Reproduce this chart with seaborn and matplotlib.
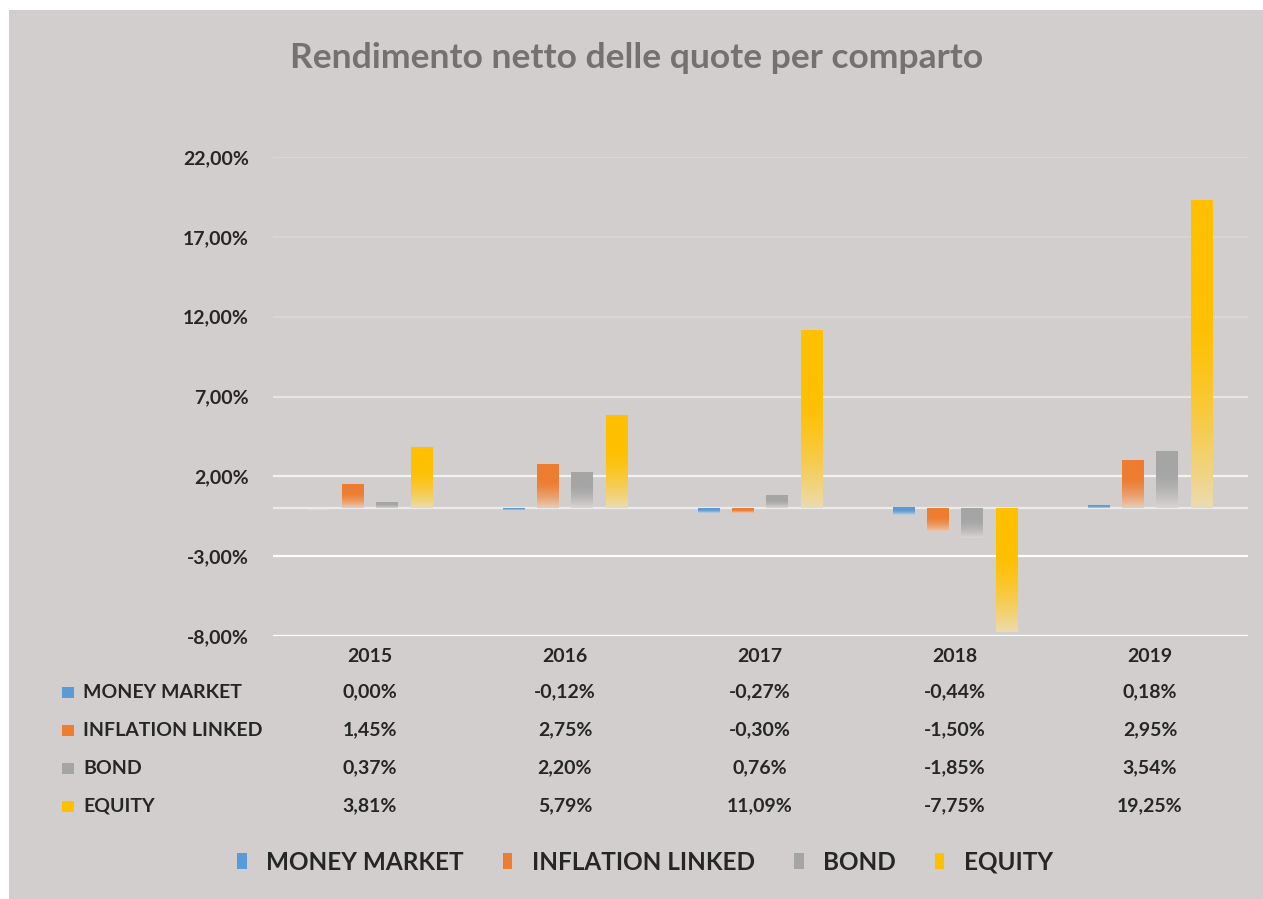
import numpy as np
import pandas as pd
import matplotlib
matplotlib.use('Agg')
import matplotlib.pyplot as plt
import matplotlib.transforms as mtransforms
from matplotlib.colors import to_rgb
from matplotlib.patches import Rectangle, Patch
import seaborn as sns

# ---- dati ----
YEARS = ["2015", "2016", "2017", "2018", "2019"]
COMPARTI = ["MONEY MARKET", "INFLATION LINKED", "BOND", "EQUITY"]
money_market = [0.00, -0.12, -0.27, -0.44, 0.18]
inflation_linked = [1.45, 2.75, -0.30, -1.50, 2.95]
bond = [0.37, 2.20, 0.76, -1.85, 3.54]
equity = [3.81, 5.79, 11.09, -7.75, 19.25]
YTICKS = [-8, -3, 2, 7, 12, 17, 22]

COLORS = ["#5b9bd5", "#ed7d31", "#a5a5a5", "#ffc000"]
BG = "#d2cece"
FADE = np.array(to_rgb("#e6e2de"))
GRID_COLORS = ["#ffffff", "#ffffff", "#f4f3f3", "#e6e4e4", "#d9d6d6", "#d8d5d5", "#dad7d7"]


def fmt_pct(v):
    return f"{v:.2f}%".replace(".", ",")


def gradient_img(color):
    # pieno in alto, sfuma verso il basso (come il riempimento sfumato di Excel)
    c = np.array(color[:3])
    end = 0.2 * c + 0.8 * FADE
    t = np.linspace(0, 1, 256)
    w = np.clip((t - 0.35) / 0.65, 0, 1) ** 1.6
    rgb = c[None, :] * (1 - w[:, None]) + end[None, :] * w[:, None]
    return rgb[:, None, :]


df = pd.DataFrame({
    "Anno": YEARS * 4,
    "Comparto": np.repeat(COMPARTI, len(YEARS)),
    "Rendimento": money_market + inflation_linked + bond + equity,
})

sns.set_style("white")
plt.rcParams['font.family'] = ['Lato', 'DejaVu Sans']

W, H = 1263, 899
fig = plt.figure(figsize=(W / 100, H / 100), dpi=100)
fig.patch.set_facecolor("white")
fig.add_artist(Rectangle((9 / W, 0), 1 - 9 / W, 1 - 10 / H, transform=fig.transFigure,
                         facecolor=BG, edgecolor="none", zorder=-10))

ax = fig.add_axes([272.5 / W, 1 - 636 / H, 975 / W, 479 / H])
ax.set_facecolor("none")

sns.barplot(data=df, x="Anno", y="Rendimento", hue="Comparto", order=YEARS,
            hue_order=COMPARTI, palette=COLORS, saturation=1, width=0.70, gap=0.38,
            legend=False, errorbar=None, ax=ax)

# sostituisce il riempimento piatto con uno sfumato
for p in list(ax.patches):
    h = p.get_height()
    if abs(h) < 1e-9:
        continue
    x0, w, y0 = p.get_x(), p.get_width(), p.get_y()
    lo, hi = min(y0, y0 + h), max(y0, y0 + h)
    ax.imshow(gradient_img(p.get_facecolor()), extent=[x0, x0 + w, lo, hi],
              origin="upper", aspect="auto", zorder=3, interpolation="bilinear")
    p.set_visible(False)

ax.set_xlim(-0.5, len(YEARS) - 0.5)
ax.set_ylim(-8, 22)
ax.set_yticks(YTICKS)
ax.set_yticklabels([fmt_pct(v) for v in YTICKS], fontsize=14, fontweight="bold")
ax.set_xticks(range(len(YEARS)))
ax.set_xticklabels(YEARS, fontsize=14, fontweight="bold")
ax.tick_params(axis="y", length=0, pad=17)
ax.tick_params(axis="x", length=0, pad=9)
ax.set_xlabel("")
ax.set_ylabel("")
for s in ax.spines.values():
    s.set_visible(False)
for yv, gc in zip(YTICKS, GRID_COLORS):
    ax.axhline(yv, color=gc, lw=1.6, zorder=1)
ax.axhline(0, color="#ecebeb", lw=1.6, zorder=1)

# ---- tabella dati ----
trans = mtransforms.blended_transform_factory(ax.transData, fig.transFigure)
rows_py = [692, 730, 768, 806]
series = [money_market, inflation_linked, bond, equity]
for name, vals, col, py in zip(COMPARTI, series, COLORS, rows_py):
    yf = 1 - py / H
    fig.add_artist(Rectangle((62 / W, yf - 5.5 / H), 12 / W, 11 / H, transform=fig.transFigure,
                             facecolor=col, edgecolor="none"))
    fig.text(83 / W, yf, name, ha="left", va="center", fontsize=14, fontweight="bold")
    for i, v in enumerate(vals):
        fig.text(i, yf, fmt_pct(v), transform=trans, ha="center", va="center",
                 fontsize=14, fontweight="bold")

# ---- titolo e legenda ----
fig.text(636.5 / W, 1 - 58 / H, "Rendimento netto delle quote per comparto",
         ha="center", va="center", fontsize=25.5, fontweight="bold", color="#767171")

handles = [Patch(facecolor=c, edgecolor="none") for c in COLORS]
fig.legend(handles=handles, labels=COMPARTI, loc="center", bbox_to_anchor=(645 / W, 1 - 862 / H),
           ncol=4, frameon=False, prop={"weight": "bold", "size": 17.5},
           handlelength=0.4, handleheight=0.6, handletextpad=0.8, columnspacing=1.6)

fig.savefig("out.png", dpi=100, facecolor=fig.get_facecolor())
